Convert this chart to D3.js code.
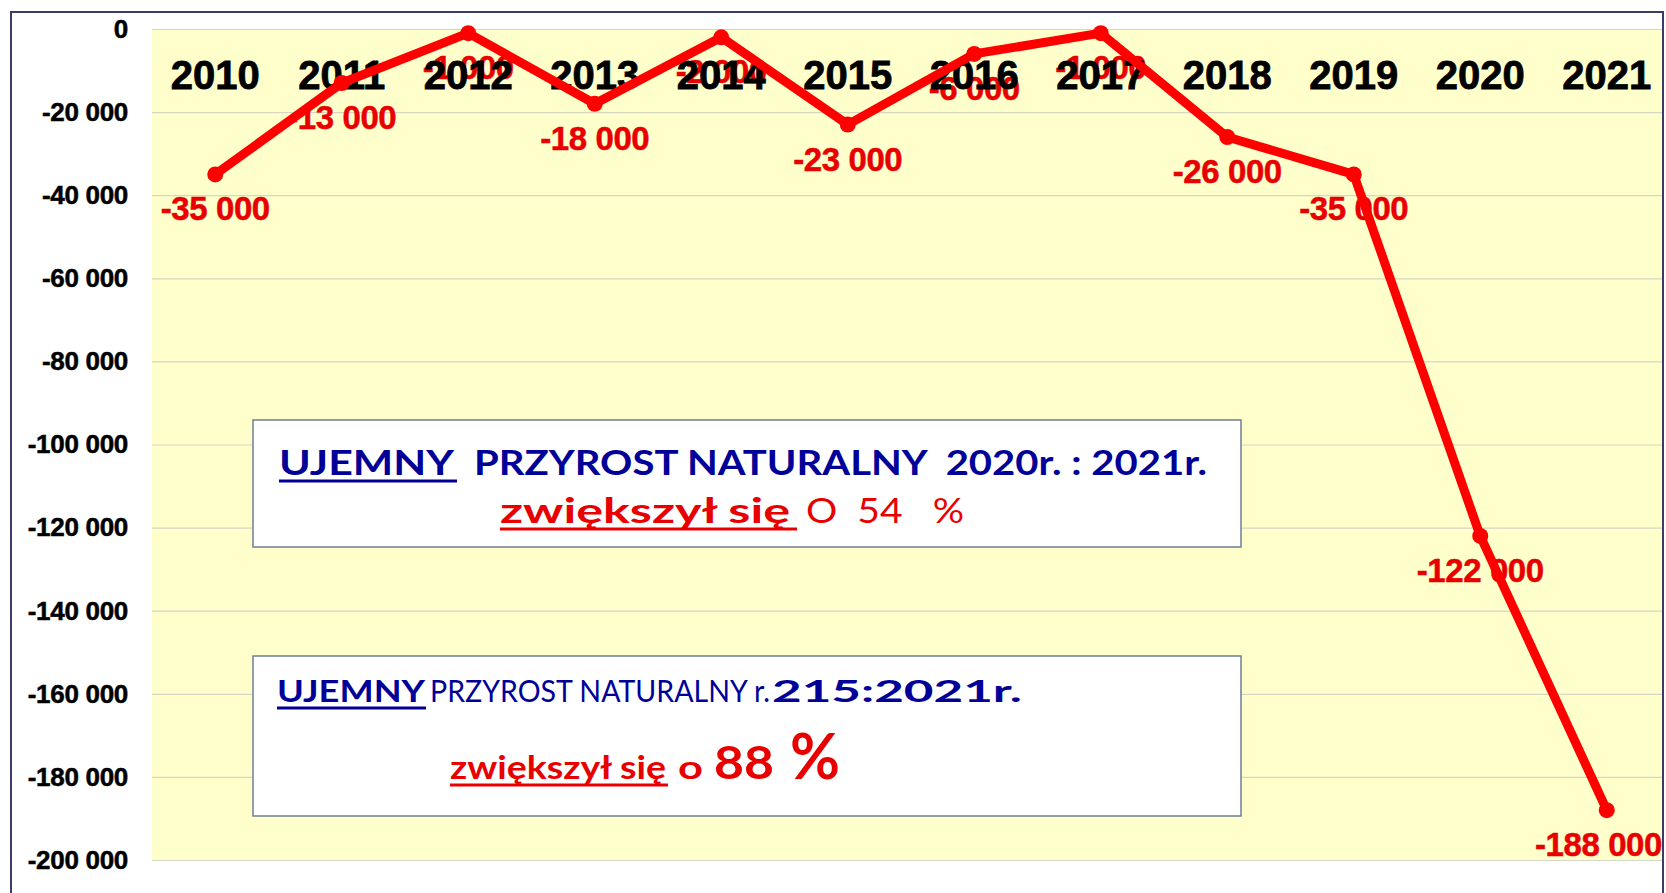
<!DOCTYPE html>
<html>
<head>
<meta charset="utf-8">
<script src="https://cdn.jsdelivr.net/npm/d3@7"></script>
<style>
    body { margin: 0; background: #fff; }
    svg { display: block; }
    text { white-space: pre; }
</style>
</head>
<body>
<script>
// data
const years = [2010, 2011, 2012, 2013, 2014, 2015, 2016, 2017, 2018, 2019, 2020, 2021];
const values = [-35000, -13000, -1000, -18000, -2000, -23000, -6000, -1000, -26000, -35000, -122000, -188000];
const yDomain = [-200000, 0];

const box1Line1 = ["UJEMNY", "PRZYROST NATURALNY  2020r. : 2021r."];
const box1Line2 = ["zwiększył się", "O  54   %"];
const box2Line1 = ["UJEMNY", "PRZYROST NATURALNY r.", "215:2021r."];
const box2Line2 = ["zwiększył się", "o", "88", "%"];

const W = 1666, H = 893;
const plot = { left: 152, top: 29, bottom: 860, right: 1670 };
const navy = "#000099", red = "#ff0000", labelRed = "#e80000";

let svg = d3.select("body").append("svg")
    .attr("width", W)
    .attr("height", H);

// outer frame + plot background
svg.append("rect")
    .attr("x", 11).attr("y", 12)
    .attr("width", 1652).attr("height", 920)
    .attr("fill", "#fff")
    .attr("stroke", "#3c3c66")
    .attr("stroke-width", 2);

svg.append("rect")
    .attr("x", plot.left).attr("y", plot.top)
    .attr("width", 1662 - plot.left).attr("height", plot.bottom - plot.top)
    .attr("fill", "#ffffcc");

let x = d3.scaleBand()
    .domain(years)
    .range([plot.left, plot.right]);

let y = d3.scaleLinear()
    .domain(yDomain)
    .range([plot.bottom, plot.top]);

const fmt = d3.formatLocale({ decimal: ",", thousands: " ", grouping: [3], currency: ["", ""], minus: "-" }).format(",d");

// gridlines
svg.append("g")
    .attr("transform", `translate(${plot.left},0)`)
    .call(d3.axisLeft(y).ticks(10).tickSize(-(1662 - plot.left)).tickFormat(""))
    .call(g => g.select(".domain").remove())
    .call(g => g.selectAll("line").attr("stroke", "#d6d6c4").attr("stroke-width", 1.2));

// y labels
svg.append("g")
    .attr("transform", "translate(128,0)")
    .call(d3.axisLeft(y).ticks(10).tickSize(0).tickPadding(0).tickFormat(fmt))
    .call(g => g.select(".domain").remove())
    .call(g => g.selectAll("text")
        .attr("fill", "#000")
        .attr("stroke", "#000")
        .attr("stroke-width", 0.5)
        .attr("font-family", "Liberation Sans, Arial, sans-serif")
        .attr("font-weight", "bold")
        .attr("font-size", 26)
        .attr("letter-spacing", -0.3));

// text boxes
function box(bx, by, bw, bh) {
    svg.append("rect")
        .attr("x", bx).attr("y", by)
        .attr("width", bw).attr("height", bh)
        .attr("fill", "#fff")
        .attr("stroke", "#6e7f90")
        .attr("stroke-width", 1.5);
}

function seg(str, sx, sy, len, size, weight, color) {
    svg.append("text")
        .attr("x", sx).attr("y", sy)
        .attr("font-family", "Lato, Open Sans, sans-serif")
        .attr("font-size", size)
        .attr("font-weight", weight)
        .attr("fill", color)
        .attr("textLength", len)
        .attr("lengthAdjust", "spacingAndGlyphs")
        .text(str);
}

function underline(x1, x2, uy, color) {
    svg.append("line")
        .attr("x1", x1).attr("x2", x2)
        .attr("y1", uy).attr("y2", uy)
        .attr("stroke", color)
        .attr("stroke-width", 3);
}

box(253, 420, 988, 127);
seg(box1Line1[0], 279, 475, 175, 35, "bold", navy);
underline(279, 457, 481, navy);
seg(box1Line1[1], 474, 475, 733, 35, "bold", navy);
seg(box1Line2[0], 500, 523, 290, 35, "bold", labelRed);
underline(500, 797, 529, labelRed);
seg(box1Line2[1], 806, 523, 158, 35, "normal", labelRed);

box(253, 656, 988, 160);
seg(box2Line1[0], 277, 702, 148, 31, "bold", navy);
underline(277, 426, 708, navy);
seg(box2Line1[1], 430, 702, 340, 31, "normal", navy);
seg(box2Line1[2], 772, 702, 250, 31, "bold", navy);
seg(box2Line2[0], 450, 779, 216, 33, "bold", labelRed);
underline(450, 668, 785, labelRed);
seg(box2Line2[1], 678, 779, 25, 33, "bold", labelRed);
seg(box2Line2[2], 714, 779, 60, 45, "bold", labelRed);
seg(box2Line2[3], 790, 779, 50, 64, "bold", labelRed);

const pts = years.map((yr, i) => ({ year: yr, value: values[i] }));
const cx = d => x(d.year) + x.bandwidth() / 2;

// value labels
svg.append("g").selectAll("text")
    .data(pts)
    .join("text")
    .attr("y", d => y(d.value) + 46)
    .attr("text-anchor", "middle")
    .attr("font-family", "Liberation Sans, Arial, sans-serif")
    .attr("font-weight", "bold")
    .attr("font-size", 33)
    .attr("letter-spacing", -0.4)
    .attr("fill", labelRed)
    .attr("stroke", labelRed)
    .attr("stroke-width", 0.5)
    .text(d => fmt(d.value))
    .attr("x", function (d) {
        let w = this.getComputedTextLength();
        return Math.min(cx(d), 1662 - w / 2);
    });

// year labels along the top
svg.append("g").selectAll("text")
    .data(years)
    .join("text")
    .attr("x", d => x(d) + x.bandwidth() / 2)
    .attr("y", y(0) + 60)
    .attr("text-anchor", "middle")
    .attr("font-family", "Liberation Sans, Arial, sans-serif")
    .attr("font-weight", "bold")
    .attr("font-size", 40)
    .attr("fill", "#000")
    .attr("stroke", "#000")
    .attr("stroke-width", 0.8)
    .text(d => d);

// the line and markers
svg.append("path")
    .datum(pts)
    .attr("d", d3.line().x(cx).y(d => y(d.value)))
    .attr("fill", "none")
    .attr("stroke", red)
    .attr("stroke-width", 9)
    .attr("stroke-linejoin", "round");

svg.append("g").selectAll("circle")
    .data(pts)
    .join("circle")
    .attr("cx", cx)
    .attr("cy", d => y(d.value))
    .attr("r", 8)
    .attr("fill", red);
</script>
</body>
</html>
